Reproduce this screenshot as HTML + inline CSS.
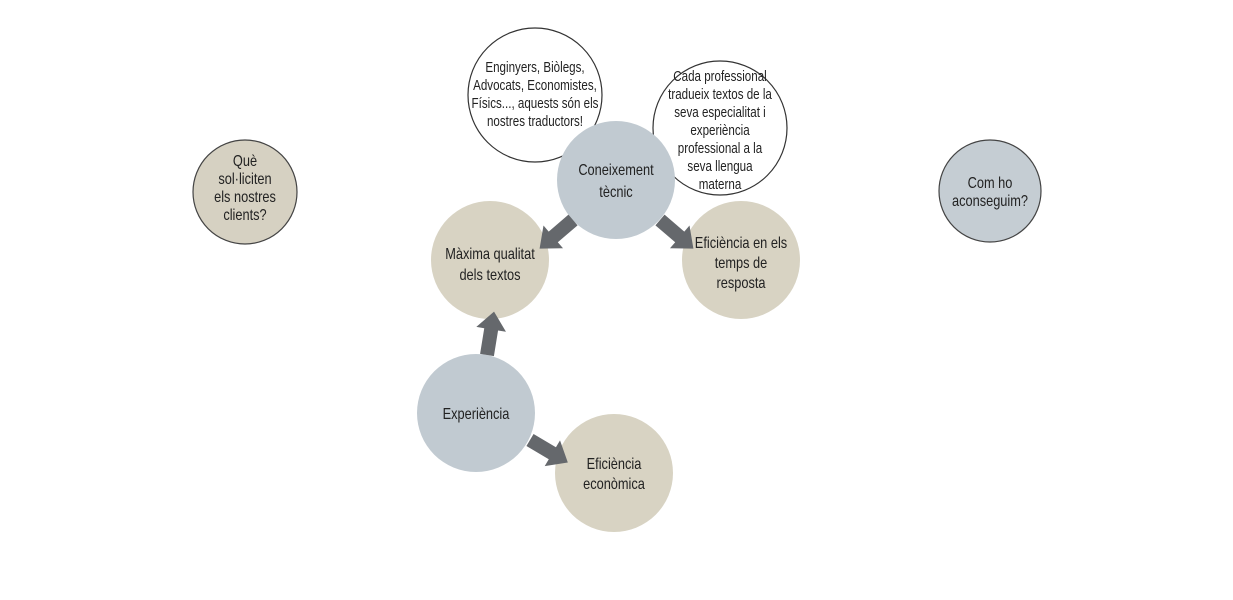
<!DOCTYPE html>
<html><head><meta charset="utf-8"><style>
html,body{margin:0;padding:0;background:#fff;}
svg{display:block;}
text{font-family:"Liberation Sans",sans-serif;font-size:16px;fill:#222;text-anchor:middle;}
.s text{font-size:14.5px;}
</style></head><body>
<svg width="1233" height="600" viewBox="0 0 1233 600">
<defs>
<path id="ar" d="M0,-7 L26,-7 L26,-15 L44,0 L26,15 L26,7 L0,7 Z" fill="#65686c"/>
</defs>
<circle cx="245" cy="192" r="52" fill="#d6d1c2" stroke="#444" stroke-width="1.2"/>
<g transform="matrix(0.8,0,0,1,49,0)">
<text x="245" y="166">Què</text>
<text x="245" y="184">sol·liciten</text>
<text x="245" y="202">els nostres</text>
<text x="245" y="220">clients?</text>
</g>
<circle cx="990" cy="191" r="51" fill="#c5cdd3" stroke="#444" stroke-width="1.2"/>
<g transform="matrix(0.8,0,0,1,198,0)">
<text x="990" y="188">Com ho</text>
<text x="990" y="206">aconseguim?</text>
</g>

<circle cx="535" cy="95" r="67" fill="#fff" stroke="#333" stroke-width="1.2"/>
<g class="s" transform="matrix(0.8,0,0,1,107,0)">
<text x="535" y="72">Enginyers, Biòlegs,</text>
<text x="535" y="90">Advocats, Economistes,</text>
<text x="535" y="108">Físics..., aquests són els</text>
<text x="535" y="126">nostres traductors!</text>
</g>
<circle cx="720" cy="128" r="67" fill="#fff" stroke="#333" stroke-width="1.2"/>
<g class="s" transform="matrix(0.8,0,0,1,144,0)">
<text x="720" y="81">Cada professional</text>
<text x="720" y="99">tradueix textos de la</text>
<text x="720" y="117">seva especialitat i</text>
<text x="720" y="135">experiència</text>
<text x="720" y="153">professional a la</text>
<text x="720" y="171">seva llengua</text>
<text x="720" y="189">materna</text>
</g>

<circle cx="616" cy="180" r="59" fill="#c1cad1"/>
<g transform="matrix(0.8,0,0,1,123.2,0)">
<text x="616" y="175">Coneixement</text>
<text x="616" y="197">tècnic</text>
</g>
<circle cx="490" cy="260" r="59" fill="#d8d3c3"/>
<g transform="matrix(0.8,0,0,1,98,0)">
<text x="490" y="259">Màxima qualitat</text>
<text x="490" y="280">dels textos</text>
</g>
<circle cx="741" cy="260" r="59" fill="#d8d3c3"/>
<g transform="matrix(0.8,0,0,1,148.2,0)">
<text x="741" y="248">Eficiència en els</text>
<text x="741" y="268">temps de</text>
<text x="741" y="288">resposta</text>
</g>
<circle cx="476" cy="413" r="59" fill="#c1cad1"/>
<g transform="matrix(0.8,0,0,1,95.2,0)">
<text x="476" y="419">Experiència</text>
</g>
<circle cx="614" cy="473" r="59" fill="#d8d3c3"/>
<g transform="matrix(0.8,0,0,1,122.8,0)">
<text x="614" y="469">Eficiència</text>
<text x="614" y="489">econòmica</text>
</g>

<use href="#ar" transform="translate(573,220) rotate(139.4)"/>
<use href="#ar" transform="translate(660,220) rotate(40.6)"/>
<use href="#ar" transform="translate(487,355) rotate(-80.8)"/>
<use href="#ar" transform="translate(530,440) rotate(30.7)"/>
</svg>
</body></html>
